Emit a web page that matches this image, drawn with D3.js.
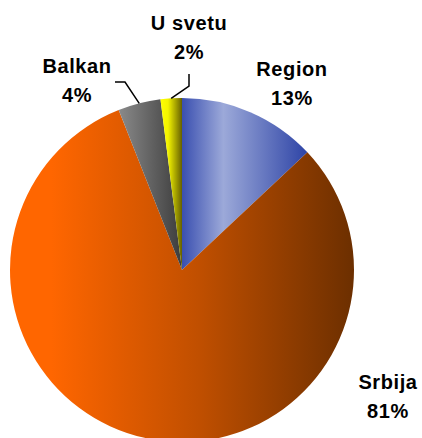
<!DOCTYPE html>
<html>
<head>
<meta charset="utf-8">
<script src="https://cdn.jsdelivr.net/npm/d3@7"></script>
<style>
  body { margin: 0; background: #fff; }
  text { font-family: "Liberation Sans", Arial, sans-serif; font-weight: bold; font-size: 20px; fill: #000; }
</style>
</head>
<body>
<script>
const categories = ["Region", "Srbija", "Balkan", "U svetu"];
const shares = [13, 81, 4, 2];
const labels = ["13%", "81%", "4%", "2%"];

const width = 422, height = 438;
const cx = 182, cy = 270, radius = 172;

// gradient stops per slice, left to right
const gradients = [
    [[0, "#3a4fb0"], [0.33, "#9ca9d9"], [1, "#2e44a6"]],
    [[0, "#ff6600"], [0.12, "#ff6600"], [0.55, "#c04f00"], [1, "#6c2f00"]],
    [[0, "#8a8a8a"], [1, "#3c3c3c"]],
    [[0, "#ffff00"], [0.35, "#f4f400"], [1, "#666000"]]
];

// label anchors (centre x, baseline of first line) and leader start points
const labelPos = [
    {x: 292, y: 76},
    {x: 388, y: 389},
    {x: 77, y: 73},
    {x: 189, y: 30}
];
const leaders = [null, null, [[115, 82], [125, 82]], [[189, 74], [189, 86]]];

const svg = d3.select("body").append("svg")
    .attr("width", width)
    .attr("height", height);

svg.append("rect")
    .attr("width", width)
    .attr("height", height)
    .attr("fill", "white");

const defs = svg.append("defs");
gradients.forEach((stops, i) => {
    const g = defs.append("linearGradient")
        .attr("id", "grad" + i)
        .attr("x1", 0).attr("y1", 0).attr("x2", 1).attr("y2", 0);
    stops.forEach(s => g.append("stop").attr("offset", s[0]).attr("stop-color", s[1]));
});

const pie = d3.pie().sort(null).value(d => d);
const arcs = pie(shares);
const arc = d3.arc().innerRadius(0).outerRadius(radius);

const g = svg.append("g").attr("transform", `translate(${cx},${cy})`);

g.selectAll("path")
    .data(arcs)
    .enter().append("path")
        .attr("d", arc)
        .attr("fill", (d, i) => `url(#grad${i})`);

// leader lines to the rim at the middle of each small slice
arcs.forEach((d, i) => {
    if (!leaders[i]) return;
    const mid = (d.startAngle + d.endAngle) / 2;
    const end = [cx + radius * Math.sin(mid), cy - radius * Math.cos(mid)];
    const pts = leaders[i].concat([end]);
    svg.append("path")
        .attr("d", d3.line()(pts))
        .attr("fill", "none")
        .attr("stroke", "#000")
        .attr("stroke-width", 1.5);
});

const lab = svg.selectAll("text.lab")
    .data(categories)
    .enter().append("text")
        .attr("class", "lab")
        .attr("text-anchor", "middle")
        .attr("x", (d, i) => labelPos[i].x)
        .attr("y", (d, i) => labelPos[i].y)
        .attr("letter-spacing", 0.6);

lab.append("tspan").text(d => d);
lab.append("tspan")
    .attr("x", (d, i) => labelPos[i].x)
    .attr("dy", 29)
    .text((d, i) => labels[i]);
</script>
</body>
</html>
